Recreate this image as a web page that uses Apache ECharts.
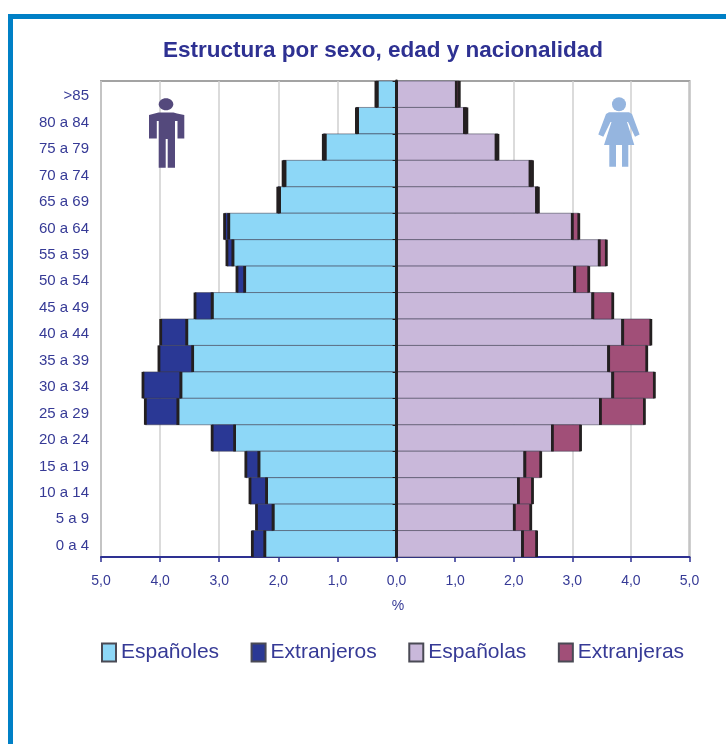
<!DOCTYPE html>
<html><head><meta charset="utf-8">
<style>html,body{margin:0;padding:0;background:#fff}#c{width:726px;height:744px}</style>
<script src="https://cdn.jsdelivr.net/npm/echarts@6/dist/echarts.min.js"></script>
</head><body><div id="c"></div>
<script>
const categories = ['>85','80 a 84','75 a 79','70 a 74','65 a 69','60 a 64','55 a 59','50 a 54','45 a 49','40 a 44','35 a 39','30 a 34','25 a 29','20 a 24','15 a 19','10 a 14','5 a 9','0 a 4'];
const espanoles   = [0.33,0.66,1.21,1.89,1.98,2.84,2.77,2.57,3.12,3.55,3.45,3.65,3.70,2.74,2.33,2.20,2.09,2.23];
const extranjeros = [0.02,0.02,0.03,0.03,0.03,0.07,0.10,0.13,0.29,0.44,0.57,0.64,0.55,0.38,0.22,0.28,0.28,0.21];
const espanolas   = [1.02,1.16,1.70,2.28,2.39,3.00,3.46,3.04,3.35,3.86,3.62,3.69,3.48,2.66,2.19,2.08,2.01,2.15];
const extranjeras = [0.05,0.04,0.03,0.04,0.03,0.11,0.12,0.24,0.34,0.48,0.65,0.71,0.75,0.48,0.27,0.24,0.28,0.24];

const TXT = '#363a96', FONT = '"Liberation Sans", Arial, sans-serif', BLACK = '#231f20';
const fmt = v => v.toFixed(1).replace('.', ',');

function seg(i, base, val){ return [i, base, base + val]; }
function renderSeg(color){
  return function(params, api){
    const cat = api.value(0);
    const a = api.coord([api.value(1), cat]);
    const b = api.coord([api.value(2), cat]);
    const h = api.size([0, 1])[1];
    const top = a[1] - h / 2;
    const x0 = Math.min(a[0], b[0]), w = Math.abs(b[0] - a[0]);
    const bar = x => ({type:'rect', shape:{x:x - 1.4, y:top, width:2.8, height:h}, style:{fill:BLACK}});
    return {type:'group', children:[
      {type:'rect', shape:{x:x0, y:top, width:w, height:h}, style:{fill:color, stroke:'rgba(60,60,80,0.55)', lineWidth:1}},
      bar(a[0]), bar(b[0])
    ]};
  };
}
function series(name, color, xi, vals, base){
  return {
    type:'custom', name, xAxisIndex:xi, yAxisIndex:xi,
    renderItem:renderSeg(color), itemStyle:{color, borderColor:'#4a4a55', borderWidth:1},
    encode:{x:[1,2], y:0}, clip:false,
    data:vals.map((v,i)=>seg(i, base ? base[i] : 0, v))
  };
}
function xAxis(idx, inverse){
  return {
    type:'value', gridIndex:idx, min:0, max:5, interval:1, inverse, position:'bottom',
    axisLine:{show:true, onZero:false, lineStyle:{color:'#2e3192', width:2}},
    axisTick:{show:true, length:5, inside:false, lineStyle:{color:'#2e3192', width:1.5}},
    axisLabel:{color:TXT, fontFamily:FONT, fontSize:14, margin:17, formatter:fmt, showMinLabel:idx===0},
    splitLine:{show:true, lineStyle:{color:'#cfcfcf', width:1.5}}
  };
}
const man = [[158.5,112.5],[173.5,112.5],[177,113.5],[184.3,115],[184.3,138.5],[177.5,138.5],[177.5,121],[175,121],[175,167.7],[167.7,167.7],[167.7,139],[165.7,139],[165.7,167.7],[158.7,167.7],[158.7,121],[156.8,121],[156.8,138.5],[149,138.5],[149,115]];
const woman = [[609,112.3],[629,112.3],[632,114],[639.6,134.5],[635,136.8],[628,122],[627,122],[634.3,145],[628.3,145],[628.3,166.7],[622,166.7],[622,145],[616,145],[616,166.7],[609.3,166.7],[609.3,145],[604,145],[611.5,122],[610.5,122],[603.3,136.8],[598.3,134.5],[606,114]];

const chart = echarts.init(document.getElementById('c'), null, {renderer:'canvas'});
chart.setOption({
  animation:false,
  title:{text:'Estructura por sexo, edad y nacionalidad', left:378, top:34, textAlign:'center',
    textStyle:{color:'#2e3192', fontFamily:FONT, fontWeight:'bold', fontSize:22.5}},
  legend:{left:96, top:637, itemWidth:14, itemHeight:18, itemGap:31.5, icon:'rect',
    textStyle:{color:TXT, fontFamily:FONT, fontSize:21},
    data:['Españoles','Extranjeros','Españolas','Extranjeras']},
  grid:[
    {left:101, width:295.6, top:81, height:476, show:true, borderColor:'#a3a3a3', borderWidth:2, backgroundColor:'#fff'},
    {left:396.6, width:292.9, top:81, height:476, show:true, borderColor:'#a3a3a3', borderWidth:2, backgroundColor:'#fff'}
  ],
  xAxis:[xAxis(0,true), xAxis(1,false)],
  yAxis:[
    {type:'category', gridIndex:0, data:categories, inverse:true, position:'left',
     axisLine:{show:false}, axisTick:{show:false},
     axisLabel:{color:TXT, fontFamily:FONT, fontSize:15, margin:12, verticalAlign:'top', lineHeight:4}},
    {type:'category', gridIndex:1, data:categories, inverse:true, position:'left', z:5,
     axisLine:{show:true, onZero:false, lineStyle:{color:BLACK, width:2.8}},
     axisTick:{show:true, length:4, lineStyle:{color:BLACK, width:1}},
     axisLabel:{show:false}}
  ],
  series:[
    series('Españoles','#8dd7f7',0,espanoles),
    series('Extranjeros','#2a3895',0,extranjeros,espanoles),
    series('Españolas','#c9b8da',1,espanolas),
    series('Extranjeras','#a14f78',1,extranjeras,espanolas)
  ],
  graphic:[
    {type:'rect', shape:{x:8,y:14,width:718,height:5}, style:{fill:'#0080c6'}, silent:true},
    {type:'rect', shape:{x:8,y:14,width:5,height:730}, style:{fill:'#0080c6'}, silent:true},
    {type:'text', x:398, y:599, style:{text:'%', fill:TXT, font:'14px '+FONT, textAlign:'center'}, silent:true},
    {type:'ellipse', shape:{cx:166,cy:104.3,rx:7.3,ry:6}, style:{fill:'#54497c'}, z:6, silent:true},
    {type:'polygon', shape:{points:man}, style:{fill:'#54497c'}, z:6, silent:true},
    {type:'circle', shape:{cx:619,cy:104.3,r:7}, style:{fill:'#95b5df'}, z:6, silent:true},
    {type:'polygon', shape:{points:woman}, style:{fill:'#95b5df'}, z:6, silent:true}
  ]
});
</script></body></html>
